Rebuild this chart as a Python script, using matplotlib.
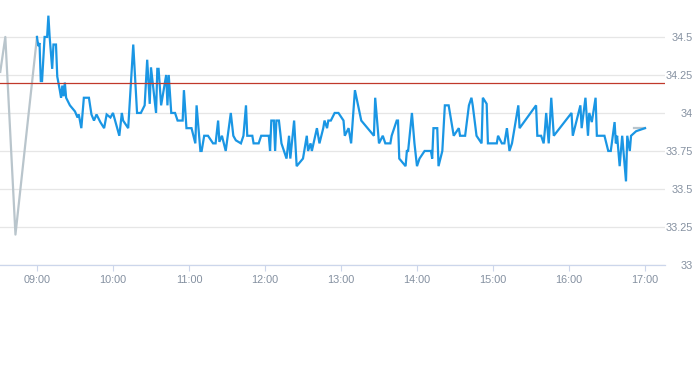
import matplotlib
matplotlib.use("Agg")
import matplotlib.pyplot as plt

plt.rcParams['font.family'] = ['Liberation Sans', 'DejaVu Sans']

# pre-market (grey) trace
pre_times = ["08:31", "08:35", "08:43", "09:00"]
pre_prices = [34.27, 34.50, 33.20, 34.50]

# intraday trace
times = [
    "09:00", "09:01", "09:02", "09:03", "09:04", "09:06", "09:08", "09:09", "09:10", "09:12",
    "09:13", "09:15", "09:16", "09:18", "09:19", "09:20", "09:21", "09:22", "09:23", "09:26",
    "09:30", "09:32", "09:33", "09:35", "09:37", "09:41", "09:43", "09:45", "09:47", "09:50",
    "09:53", "09:55", "09:58", "10:00", "10:02", "10:05", "10:07", "10:08", "10:12", "10:16",
    "10:19", "10:22", "10:25", "10:27", "10:29", "10:30", "10:34", "10:35", "10:36", "10:38",
    "10:42", "10:43", "10:44", "10:46", "10:49", "10:51", "10:55", "10:56", "10:58", "11:02",
    "11:05", "11:06", "11:09", "11:10", "11:12", "11:15", "11:19", "11:21", "11:23", "11:24",
    "11:26", "11:29", "11:33", "11:35", "11:37", "11:41", "11:43", "11:45", "11:46", "11:50",
    "11:51", "11:55", "11:57", "12:03", "12:04", "12:05", "12:07", "12:08", "12:09", "12:11",
    "12:13", "12:15", "12:17", "12:19", "12:20", "12:23", "12:25", "12:30", "12:33", "12:34",
    "12:36", "12:37", "12:41", "12:43", "12:46", "12:47", "12:49", "12:50", "12:52", "12:55",
    "12:58", "13:02", "13:03", "13:06", "13:08", "13:11", "13:16", "13:26", "13:27", "13:30",
    "13:33", "13:35", "13:39", "13:40", "13:44", "13:45", "13:46", "13:51", "13:52", "13:53",
    "13:56", "13:58", "14:00", "14:02", "14:06", "14:11", "14:12", "14:13", "14:16", "14:17",
    "14:20", "14:22", "14:25", "14:29", "14:33", "14:34", "14:38", "14:41", "14:43", "14:44",
    "14:47", "14:51", "14:52", "14:55", "14:56", "15:03", "15:04", "15:07", "15:09", "15:11",
    "15:13", "15:15", "15:20", "15:21", "15:34", "15:35", "15:38", "15:40", "15:41", "15:42",
    "15:44", "15:46", "15:48", "16:02", "16:03", "16:09", "16:10", "16:13", "16:15", "16:16",
    "16:18", "16:21", "16:22", "16:28", "16:31", "16:33", "16:36", "16:37", "16:38", "16:40",
    "16:42", "16:45", "16:46", "16:48", "16:49", "16:53", "17:00",
]
prices = [
    34.50, 34.44, 34.46, 34.21, 34.21, 34.50, 34.50, 34.64, 34.50, 34.29,
    34.45, 34.45, 34.24, 34.15, 34.10, 34.18, 34.11, 34.20, 34.10, 34.05,
    34.01, 33.97, 33.99, 33.90, 34.10, 34.10, 33.99, 33.95, 33.99, 33.94,
    33.90, 33.99, 33.97, 34.00, 33.94, 33.85, 34.00, 33.95, 33.90, 34.45,
    34.00, 34.00, 34.05, 34.35, 34.06, 34.30, 34.00, 34.29, 34.29, 34.05,
    34.25, 34.05, 34.25, 34.00, 34.00, 33.95, 33.95, 34.15, 33.90, 33.90,
    33.80, 34.05, 33.75, 33.75, 33.85, 33.85, 33.80, 33.80, 33.95, 33.81,
    33.85, 33.75, 34.00, 33.85, 33.82, 33.80, 33.85, 34.05, 33.85, 33.85,
    33.80, 33.80, 33.85, 33.85, 33.75, 33.95, 33.95, 33.75, 33.95, 33.95,
    33.80, 33.75, 33.70, 33.85, 33.70, 33.95, 33.65, 33.70, 33.85, 33.75,
    33.80, 33.75, 33.90, 33.80, 33.90, 33.95, 33.90, 33.95, 33.95, 34.00,
    34.00, 33.95, 33.85, 33.90, 33.80, 34.15, 33.95, 33.85, 34.10, 33.80,
    33.85, 33.80, 33.80, 33.85, 33.95, 33.95, 33.70, 33.65, 33.75, 33.75,
    34.00, 33.80, 33.65, 33.70, 33.75, 33.75, 33.70, 33.90, 33.90, 33.65,
    33.75, 34.05, 34.05, 33.85, 33.90, 33.85, 33.85, 34.05, 34.10, 34.05,
    33.85, 33.80, 34.10, 34.06, 33.80, 33.80, 33.85, 33.80, 33.80, 33.90,
    33.75, 33.80, 34.05, 33.90, 34.05, 33.85, 33.85, 33.80, 33.89, 34.00,
    33.80, 34.10, 33.85, 34.00, 33.85, 34.05, 33.90, 34.10, 33.85, 34.00,
    33.94, 34.10, 33.85, 33.85, 33.75, 33.75, 33.94, 33.80, 33.85, 33.65,
    33.85, 33.55, 33.85, 33.75, 33.85, 33.88, 33.90,
]

# after-hours (grey) stub
post_times = ["16:51", "17:00"]
post_prices = [33.90, 33.90]

ref_price = 34.20  # previous close

y_ticks = [33.0, 33.25, 33.5, 33.75, 34.0, 34.25, 34.5]
y_labels = ["33", "33.25", "33.5", "33.75", "34", "34.25", "34.5"]
x_ticks = ["09:00", "10:00", "11:00", "12:00", "13:00", "14:00", "15:00", "16:00", "17:00"]


def to_min(t):
    h, m = t.split(":")
    return int(h) * 60 + int(m) - 540


fig = plt.figure(figsize=(6.93, 3.65), dpi=100)
ax = fig.add_axes([0.0, 0.274, 0.9596, 0.726])

ax.plot([to_min(t) for t in pre_times], pre_prices, color='#b9c5cc', lw=1.6, zorder=3)
ax.plot([to_min(t) for t in post_times], post_prices, color='#b9c5cc', lw=1.6, zorder=3)
ax.plot([to_min(t) for t in times], prices, color='#1a96e4', lw=1.6, zorder=4,
        solid_joinstyle='miter')
ax.axhline(ref_price, color='#c0392b', lw=0.9, zorder=5)

ax.set_xlim(-29.2, 495.8)
ax.set_ylim(33.0, 34.743)

ax.set_yticks(y_ticks)
ax.set_yticklabels(y_labels)
ax.yaxis.tick_right()
ax.tick_params(axis='y', length=0, pad=20.2, labelsize=7.8, labelcolor='#8490a0')
for lbl in ax.get_yticklabels():
    lbl.set_horizontalalignment('right')
ax.yaxis.grid(True, color='#e6e6e6', lw=0.9)
ax.set_axisbelow(True)

ax.set_xticks([to_min(t) for t in x_ticks])
ax.set_xticklabels(x_ticks)
ax.tick_params(axis='x', length=4, width=0.8, color='#ccd6eb', pad=3,
               labelsize=7.8, labelcolor='#8490a0')

for s in ['top', 'left', 'right']:
    ax.spines[s].set_visible(False)
ax.spines['bottom'].set_color('#ccd6eb')
ax.spines['bottom'].set_linewidth(0.9)

fig.savefig('out.png', dpi=100)
